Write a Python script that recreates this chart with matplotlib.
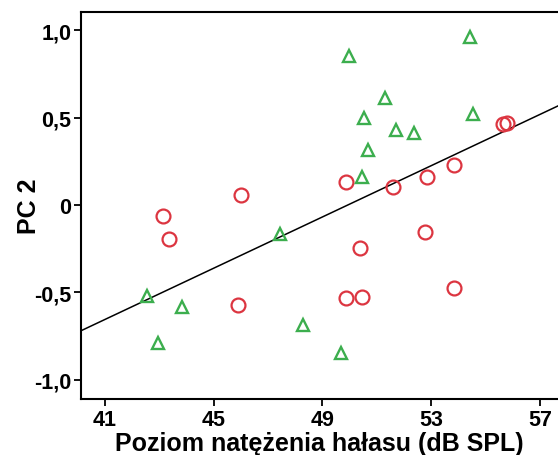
import numpy as np
import matplotlib
matplotlib.use("Agg")
import matplotlib.pyplot as plt

plt.rcParams['font.family'] = ['Liberation Sans', 'DejaVu Sans']
plt.rcParams['font.weight'] = 'bold'

# Group 1 (red circles): noise level vs PC 2 score
red_x = [43.13, 43.35, 46.00, 45.89, 49.86, 51.59, 52.84, 53.83, 55.63, 55.78,
         50.38, 52.76, 49.86, 50.45, 53.83]
red_y = [-0.063, -0.195, 0.057, -0.573, 0.132, 0.103, 0.160, 0.229, 0.464, 0.470,
         -0.246, -0.155, -0.533, -0.527, -0.475]

# Group 2 (green triangles)
green_x = [49.97, 54.42, 51.29, 50.52, 51.70, 52.36, 54.53, 50.67, 50.45, 47.43,
           48.28, 49.68, 42.54, 43.83, 42.95]
green_y = [0.853, 0.962, 0.613, 0.498, 0.430, 0.412, 0.521, 0.315, 0.160, -0.166,
           -0.687, -0.848, -0.521, -0.584, -0.790]

# Linear fit: PC2 = intercept + slope * level
fit_intercept = -3.665
fit_slope = 0.0734

x_ticks = [41, 45, 49, 53, 57]
y_ticks = [-1.0, -0.5, 0.0, 0.5, 1.0]
y_tick_labels = ["-1,0", "-0,5", "0", "0,5", "1,0"]

fig = plt.figure(figsize=(5.58, 4.56), dpi=100)
ax = fig.add_axes([81 / 558, 1 - 400 / 456, (558 - 81) / 558, (400 - 13) / 456])

x_min, x_max = 40.12, 57.66
ax.set_xlim(x_min, x_max)
ax.set_ylim(-1.111, 1.105)

line_x = np.array([x_min, x_max])
ax.plot(line_x, fit_intercept + fit_slope * line_x, color='black', lw=1.1, zorder=2)

ax.plot(red_x, red_y, linestyle='none', marker='o', markersize=10,
        markerfacecolor='none', markeredgecolor='#dc3540', markeredgewidth=1.6, zorder=3)
ax.plot(green_x, green_y, linestyle='none', marker='^', markersize=8,
        markerfacecolor='none', markeredgecolor='#3cae4e', markeredgewidth=1.7, zorder=3)

ax.spines['right'].set_visible(False)
for s in ['left', 'bottom', 'top']:
    ax.spines[s].set_linewidth(1.5)

ax.set_xticks(x_ticks)
ax.set_yticks(y_ticks)
ax.set_yticklabels(y_tick_labels)
ax.tick_params(direction='out', length=5, width=1.3, labelsize=15.5, pad=2)
for lab in ax.get_xticklabels() + ax.get_yticklabels():
    lab.set_fontweight('bold')

ax.set_xlabel("Poziom natężenia hałasu (dB SPL)", fontsize=18, fontweight='bold', labelpad=1)
ax.set_ylabel("PC 2", fontsize=18, fontweight='bold', labelpad=-5)

fig.savefig("out.png", dpi=100)
